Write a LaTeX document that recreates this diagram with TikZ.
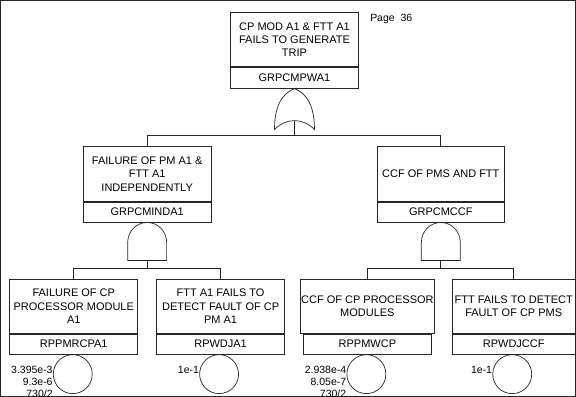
\documentclass[tikz,border=0pt]{standalone}
\usepackage{fontspec}
\setmainfont{Liberation Sans}
\begin{document}
\begin{tikzpicture}[x=1pt,y=-1pt,line width=0.7pt,
  every path/.style={draw=black!85},
  desc/.style={draw=black!85, rectangle, minimum width=128pt, minimum height=55pt, inner sep=1pt,
    align=center, anchor=north, font=\fontsize{11}{13.4}\selectfont},
  idbox/.style={draw=black!85, rectangle, minimum width=128pt, minimum height=20pt, inner sep=1pt,
    anchor=north, font=\fontsize{11}{13}\selectfont},
  evt/.style={draw=black!85, circle, minimum size=39pt, inner sep=0pt, anchor=north},
  prob/.style={align=right, anchor=north east, inner sep=0pt, font=\fontsize{10.5}{12}\selectfont},
  divider/.style={line width=1.2pt},
  conn/.style={line width=0.7pt}]
\useasboundingbox (0,0) rectangle (576,396);

% page label
\node[anchor=west, inner sep=0pt, font=\fontsize{10.5}{12}\selectfont] (page) at (370,19) {Page\ \ 36};

% top event
\node[desc, minimum height=54pt] (top) at (294.5,12) {CP MOD A1 \& FTT A1\\FAILS TO GENERATE\\TRIP};
\node[idbox, minimum height=21pt] (topid) at (top.south) {GRPCMPWA1};
\draw[divider] (top.south west) -- (top.south east);

% OR gate
\begin{scope}[shift={(topid.south)}]
  \draw (0,0) .. controls (-13,5) and (-20,18) .. (-20,41)
        .. controls (-9,29) and (9,29) .. (20,41)
        .. controls (20,18) and (13,5) .. (0,0);
  \coordinate (gor) at (0,32);
\end{scope}
\coordinate (bar1) at (294.5,135);
\draw[conn] (gor) -- (gor |- bar1);

% middle events
\node[desc] (m1) at (147,146) {FAILURE OF PM A1 \&\\FTT A1\\INDEPENDENTLY};
\node[idbox] (m1id) at (m1.south) {GRPCMINDA1};
\draw[divider] (m1.south west) -- (m1.south east);
\node[desc] (m2) at (441,146) {CCF OF PMS AND FTT};
\node[idbox] (m2id) at (m2.south) {GRPCMCCF};
\draw[divider] (m2.south west) -- (m2.south east);

\draw[conn] (m1.north |- bar1) -- (m2.north |- bar1);
\draw[conn] (m1.north) -- (m1.north |- bar1);
\draw[conn] (m2.north) -- (m2.north |- bar1);

% AND gates
\begin{scope}[shift={(m1id.south)}]
  \draw (-19.5,20) .. controls (-19.5,8.9) and (-10.8,0) .. (0,0)
        .. controls (10.8,0) and (19.5,8.9) .. (19.5,20) -- (19.5,38) -- (-19.5,38) -- cycle;
  \coordinate (ga1) at (0,38);
\end{scope}
\begin{scope}[shift={(m2id.south)}]
  \draw (-19.5,20) .. controls (-19.5,8.9) and (-10.8,0) .. (0,0)
        .. controls (10.8,0) and (19.5,8.9) .. (19.5,20) -- (19.5,38) -- (-19.5,38) -- cycle;
  \coordinate (ga2) at (0,38);
\end{scope}
\coordinate (bar2) at (147,268);
\coordinate (bar3) at (441,268);
\draw[conn] (ga1) -- (ga1 |- bar2);
\draw[conn] (ga2) -- (ga2 |- bar3);

% bottom events
\node[desc, minimum height=54pt] (b1) at (73.5,279) {FAILURE OF CP\\PROCESSOR MODULE\\A1};
\node[idbox] (b1id) at (b1.south) {RPPMRCPA1};
\draw[divider] (b1.south west) -- (b1.south east);
\node[desc, minimum height=54pt] (b2) at (220.5,279) {FTT A1 FAILS TO\\DETECT FAULT OF CP\\PM A1};
\node[idbox] (b2id) at (b2.south) {RPWDJA1};
\draw[divider] (b2.south west) -- (b2.south east);
\node[desc, minimum height=54pt] (b3) at (367.5,279) {CCF OF CP PROCESSOR\\MODULES};
\node[idbox] (b3id) at (b3.south) {RPPMWCP};
\draw[divider] (b3.south west) -- (b3.south east);
\node[desc, minimum height=54pt, minimum width=123pt] (b4) at (514,279) {FTT FAILS TO DETECT\\FAULT OF CP PMS};
\node[idbox, minimum width=123pt] (b4id) at (b4.south) {RPWDJCCF};
\draw[divider] (b4.south west) -- (b4.south east);

\draw[conn] (b1.north |- bar2) -- (b2.north |- bar2);
\draw[conn] (b1.north) -- (b1.north |- bar2);
\draw[conn] (b2.north) -- (b2.north |- bar2);
\draw[conn] (b3.north |- bar3) -- (b4.north |- bar3);
\draw[conn] (b3.north) -- (b3.north |- bar3);
\draw[conn] (b4.north) -- (b4.north |- bar3);

% basic event circles
\node[evt] (c1) at ([xshift=-1pt]b1id.south) {};
\node[evt] (c2) at ([xshift=-1.5pt]b2id.south) {};
\node[evt] (c3) at ([xshift=-1pt]b3id.south) {};
\node[evt] (c4) at ([xshift=-1.5pt]b4id.south) {};

\node[prob] (p1) at ([yshift=8.5pt]c1.west) {3.395e-3\\9.3e-6\\730/2};
\node[prob] (p2) at ([yshift=8.5pt]c2.west) {1e-1};
\node[prob] (p3) at ([yshift=8.5pt]c3.west) {2.938e-4\\8.05e-7\\730/2};
\node[prob] (p4) at ([yshift=8.5pt]c4.west) {1e-1};
\end{tikzpicture}
\end{document}
